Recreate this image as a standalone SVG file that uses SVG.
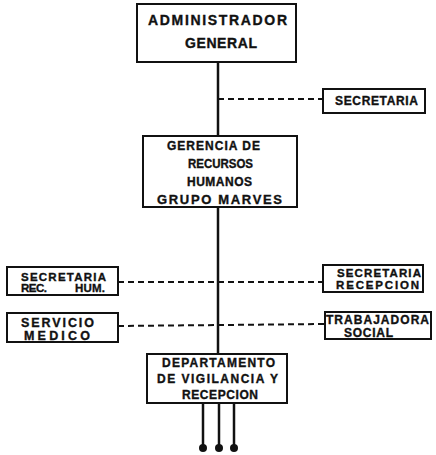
<svg xmlns="http://www.w3.org/2000/svg" width="436" height="455" viewBox="0 0 436 455">
<style>
.box{fill:#fff;stroke:#111;stroke-width:2}
.t{font-family:"Liberation Sans",Arial,sans-serif;font-weight:bold;fill:#111;stroke:#111;stroke-width:0.35;font-size:12px}
.s{stroke:#111;stroke-width:2.5;fill:none}
.d{stroke:#111;stroke-width:2;fill:none;stroke-dasharray:6 4}
</style>
<rect width="436" height="455" fill="#fff"/>
<g id="connectors">
<line class="s" x1="218" y1="62" x2="218" y2="136"/>
<line class="s" x1="218" y1="207" x2="218" y2="354"/>
<line class="d" x1="218" y1="99" x2="323" y2="99"/>
<line class="d" x1="118" y1="282" x2="323" y2="282"/>
<line class="d" x1="118" y1="326" x2="325" y2="324"/>
<line class="s" x1="203" y1="403" x2="203" y2="448"/>
<line class="s" x1="219" y1="403" x2="219" y2="448"/>
<line class="s" x1="234" y1="403" x2="234" y2="448"/>
<circle cx="203" cy="448" r="4" fill="#111"/>
<circle cx="219" cy="448" r="4" fill="#111"/>
<circle cx="234" cy="448" r="4" fill="#111"/>
</g>
<g id="admin">
<rect class="box" x="137" y="4" width="159" height="58"/>
<text class="t" x="148" y="25" style="font-size:14px" textLength="139" lengthAdjust="spacing">ADMINISTRADOR</text>
<text class="t" x="185" y="48" style="font-size:14px" textLength="72" lengthAdjust="spacing">GENERAL</text>
</g>
<g id="secretaria">
<rect class="box" x="323" y="89" width="102" height="24"/>
<text class="t" x="335" y="105" textLength="83" lengthAdjust="spacing">SECRETARIA</text>
</g>
<g id="gerencia">
<rect class="box" x="143" y="136" width="154" height="71"/>
<text class="t" x="167" y="150" textLength="93" lengthAdjust="spacing">GERENCIA DE</text>
<text class="t" x="188" y="168" textLength="65" lengthAdjust="spacingAndGlyphs">RECURSOS</text>
<text class="t" x="187" y="186" textLength="65" lengthAdjust="spacing">HUMANOS</text>
<text class="t" x="157" y="204" style="font-size:13px" textLength="125" lengthAdjust="spacing">GRUPO MARVES</text>
</g>
<g id="sec-rec-hum">
<rect class="box" x="7" y="267" width="111" height="28"/>
<text class="t" x="21" y="281" style="font-size:11.5px" textLength="85" lengthAdjust="spacing">SECRETARIA</text>
<text class="t" x="21" y="292" style="font-size:11.5px" textLength="26" lengthAdjust="spacing">REC.</text>
<text class="t" x="75" y="292" style="font-size:11.5px" textLength="30" lengthAdjust="spacing">HUM.</text>
</g>
<g id="servicio-medico">
<rect class="box" x="7" y="313" width="111" height="29"/>
<text class="t" x="21" y="327" style="font-size:12.5px" textLength="73" lengthAdjust="spacing">SERVICIO</text>
<text class="t" x="24" y="340" style="font-size:12.5px" textLength="66" lengthAdjust="spacing">MEDICO</text>
</g>
<g id="sec-recepcion">
<rect class="box" x="323" y="265" width="100" height="27"/>
<text class="t" x="337" y="277" style="font-size:11.5px" textLength="84" lengthAdjust="spacing">SECRETARIA</text>
<text class="t" x="336" y="289" style="font-size:11.5px" textLength="83" lengthAdjust="spacing">RECEPCION</text>
</g>
<g id="trabajadora">
<rect class="box" x="325" y="312" width="106" height="27"/>
<text class="t" x="326" y="324" style="font-size:12px" textLength="103" lengthAdjust="spacing">TRABAJADORA</text>
<text class="t" x="344" y="337" style="font-size:12px" textLength="49" lengthAdjust="spacing">SOCIAL</text>
</g>
<g id="departamento">
<rect class="box" x="147" y="354" width="140" height="49"/>
<text class="t" x="162" y="367" textLength="113" lengthAdjust="spacing">DEPARTAMENTO</text>
<text class="t" x="157" y="383" textLength="121" lengthAdjust="spacing">DE VIGILANCIA Y</text>
<text class="t" x="182" y="399" textLength="76" lengthAdjust="spacing">RECEPCION</text>
</g>
</svg>
